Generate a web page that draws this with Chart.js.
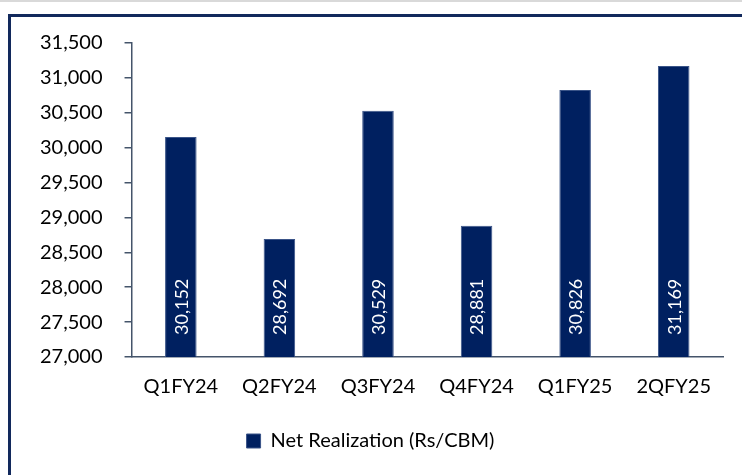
<!DOCTYPE html>
<html>
<head>
<meta charset="utf-8">
<script src="https://cdn.jsdelivr.net/npm/chart.js@4.4.1/dist/chart.umd.min.js"></script>
<style>
  html, body { margin: 0; padding: 0; background: #fff; overflow: hidden; }
  #topline { position: absolute; left: 0; top: 0; width: 742px; height: 2px; background: #d9d9d9; }
  #frame { position: absolute; left: 8px; top: 14px; width: 760px; height: 500px;
           border: 3px solid #12295c; box-sizing: border-box; }
  #wrap { position: absolute; left: 0; top: 0; width: 742px; height: 475px; }
</style>
</head>
<body>
<div id="topline"></div>
<div id="frame"></div>
<div id="wrap"><canvas id="myChart"></canvas></div>
<script>
const labels = ['Q1FY24', 'Q2FY24', 'Q3FY24', 'Q4FY24', 'Q1FY25', '2QFY25'];
const realization = [30152, 28692, 30529, 28881, 30826, 31169];
const yMin = 27000;
const yMax = 31500;
const yStep = 500;

const navy = '#002060';
const axisCol = '#44546a';
const font = 'Lato, "Noto Sans", sans-serif';

function fmt(v) {
  return String(v).replace(/\B(?=(\d{3})+(?!\d))/g, ',');
}

// value labels written up the inside of each bar
const barText = {
  id: 'barText',
  afterDraw(chart) {
    const c = chart.ctx;
    const meta = chart.getDatasetMeta(0);
    const yScale = chart.scales.y;
    c.save();
    c.fillStyle = '#ffffff';
    c.font = '18px ' + font;
    c.textAlign = 'left';
    c.textBaseline = 'middle';
    meta.data.forEach((bar, i) => {
      const x = bar.x;
      const base = yScale.getPixelForValue(yMin);
      c.save();
      c.translate(x, base - 22);
      c.rotate(-Math.PI / 2);
      c.fillText(fmt(realization[i]), 0, 1);
      c.restore();
    });
    c.restore();
  }
};

const ctx = document.getElementById('myChart');
const chart = new Chart(ctx, {
  type: 'bar',
  data: {
    labels: labels,
    datasets: [{
      label: 'Net Realization (Rs/CBM)',
      data: realization,
      backgroundColor: navy,
      borderColor: '#3a5488',
      borderWidth: 1,
      barPercentage: 0.64,
      categoryPercentage: 0.5
    }]
  },
  options: {
    responsive: true,
    maintainAspectRatio: false,
    animation: false,
    layout: { padding: { left: 18, right: 19, top: 43, bottom: 14 } },
    plugins: {
      tooltip: { enabled: false },
      legend: {
        position: 'bottom',
        labels: {
          color: '#000',
          font: { family: font, size: 20 },
          boxWidth: 14,
          boxHeight: 14,
          padding: 14
        }
      }
    },
    scales: {
      x: {
        grid: { display: false, drawTicks: false },
        border: { color: axisCol, width: 1.5 },
        ticks: { color: '#000', font: { family: font, size: 20 }, padding: 18 }
      },
      y: {
        min: yMin,
        max: yMax,
        grid: { drawOnChartArea: false, drawTicks: true, tickLength: 7, color: axisCol, lineWidth: 1.5 },
        border: { color: axisCol, width: 1.5 },
        ticks: {
          stepSize: yStep,
          color: '#000',
          font: { family: font, size: 20 },
          padding: 22,
          callback: (v) => fmt(v)
        }
      }
    }
  },
  plugins: [barText]
});
</script>
</body>
</html>
